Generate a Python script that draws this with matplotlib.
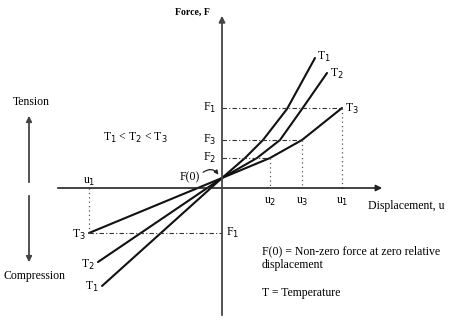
import matplotlib
matplotlib.use("Agg")
import matplotlib.pyplot as plt

plt.rcParams['font.family'] = ['Liberation Serif', 'DejaVu Serif']

# ---- data (u = displacement, F = force; schematic units) ----
f0 = 10
t1_u = [-120, 0, 23, 41, 65, 93]
t1_F = [-98, 10, 30, 48, 79, 130]
t2_u = [-124, 0, 35, 58, 80, 105]
t2_F = [-74, 10, 30, 48, 79, 115]
t3_u = [-133, 0, 48, 80, 120]
t3_F = [-45, 10, 30, 48, 80]

level_F = [80, 48, 30]            # F1, F3, F2
level_F_labels = ["F$_1$", "F$_3$", "F$_2$"]
level_u = [120, 80, 48]           # u1, u3, u2
level_u_labels = ["u$_1$", "u$_3$", "u$_2$"]
neg_u, neg_F = -133, -45

fig = plt.figure(figsize=(4.49, 3.22), dpi=100)
ax = fig.add_axes([0, 0, 1, 1])
ax.set_xlim(-222, 227)
ax.set_ylim(-134, 188)
ax.axis('off')

axc = '#444444'
# axes with arrows
ax.annotate('', xy=(163, 0), xytext=(-167, 0),
            arrowprops=dict(arrowstyle='-|>', color='#222222', lw=1.2, mutation_scale=9))
ax.annotate('', xy=(0, 175), xytext=(0, -130),
            arrowprops=dict(arrowstyle='-|>', color=axc, lw=1.3, mutation_scale=9))

# curves
for u, F in [(t1_u, t1_F), (t2_u, t2_F), (t3_u, t3_F)]:
    ax.plot(u, F, color='#111111', lw=1.5, solid_capstyle='round', solid_joinstyle='round')

# reference lines
for fl, ul in zip(level_F, level_u):
    ax.plot([0, ul], [fl, fl], color='#333333', lw=0.8, linestyle=(0, (4, 2, 1, 2)))
    ax.plot([ul, ul], [fl, 0], color='#555555', lw=0.9, linestyle=(0, (1, 2.5)))
ax.plot([neg_u, 0], [neg_F, neg_F], color='#333333', lw=0.8, linestyle=(0, (4, 2, 1, 2)))
ax.plot([neg_u, neg_u], [neg_F, 0], color='#555555', lw=0.9, linestyle=(0, (1, 2.5)))

fs = 8.5
for fl, lab in zip(level_F, level_F_labels):
    ax.text(-6, fl, lab, ha='right', va='center', fontsize=fs)
for ul, lab in zip(level_u, level_u_labels):
    ax.text(ul, -14, lab, ha='center', va='center', fontsize=fs)
ax.text(neg_u, 6, "u$_1$", ha='center', va='center', fontsize=fs)
ax.text(4, neg_F, "F$_1$", ha='left', va='center', fontsize=fs)

# curve end labels
ax.text(t1_u[-1] + 2, t1_F[-1] + 1, "T$_1$", ha='left', va='center', fontsize=fs)
ax.text(t2_u[-1] + 3, t2_F[-1] - 1, "T$_2$", ha='left', va='center', fontsize=fs)
ax.text(t3_u[-1] + 3, t3_F[-1] - 1, "T$_3$", ha='left', va='center', fontsize=fs)
ax.text(t3_u[0] - 3, t3_F[0] - 2, "T$_3$", ha='right', va='center', fontsize=fs)
ax.text(t2_u[0] - 3, t2_F[0] - 3, "T$_2$", ha='right', va='center', fontsize=fs)
ax.text(t1_u[0] - 3, t1_F[0] - 1, "T$_1$", ha='right', va='center', fontsize=fs)

ax.text(-87, 50, "T$_1$ < T$_2$ < T$_3$", ha='center', va='center', fontsize=fs)

# F(0)
ax.text(-22, 11, "F(0)", ha='right', va='center', fontsize=fs)
ax.annotate('', xy=(-2, f0 + 1), xytext=(-21, 14),
            arrowprops=dict(arrowstyle='-|>', color='#222222', lw=0.9, mutation_scale=6,
                            connectionstyle='arc3,rad=-0.6'))

# axis titles
ax.text(-30, 176, "Force, F", ha='center', va='center', fontsize=7, fontweight='bold')
ax.text(146, -18, "Displacement, u", ha='left', va='center', fontsize=fs)

# tension / compression
ax.annotate('', xy=(-193, 75), xytext=(-193, 3),
            arrowprops=dict(arrowstyle='-|>', color=axc, lw=1.3, mutation_scale=8))
ax.annotate('', xy=(-193, -77), xytext=(-193, -5),
            arrowprops=dict(arrowstyle='-|>', color=axc, lw=1.3, mutation_scale=8))
ax.text(-191, 86, "Tension", ha='center', va='center', fontsize=fs)
ax.text(-188, -88, "Compression", ha='center', va='center', fontsize=fs)

# notes
ax.text(40, -63, "F(0) = Non-zero force at zero relative", ha='left', va='center', fontsize=fs)
ax.text(40, -77, "displacement", ha='left', va='center', fontsize=fs)
ax.text(40, -105, "T = Temperature", ha='left', va='center', fontsize=fs)

fig.savefig("out.png", dpi=100)
